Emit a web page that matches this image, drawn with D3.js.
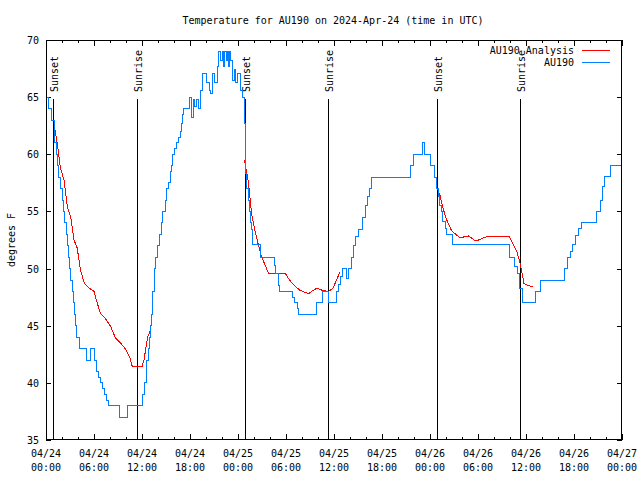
<!DOCTYPE html>
<html><head><meta charset="utf-8">
<script src="https://cdn.jsdelivr.net/npm/d3@7"></script>
<style>
html,body{margin:0;padding:0;background:#fff;}
text{font-family:"DejaVu Sans Mono","Liberation Mono",monospace;font-size:10px;fill:#000;}
</style></head>
<body>
<svg id="c" width="640" height="480"></svg>
<script>
// ---- data (hours since 2024-04-24 00:00 UTC, degrees F) ----
const titleText = "Temperature for AU190 on 2024-Apr-24 (time in UTC)";
const yTicks = [35, 40, 45, 50, 55, 60, 65, 70];
const xTickHours = [0, 6, 12, 18, 24, 30, 36, 42, 48, 54, 60, 66, 72];
const xTickDates = ["04/24","04/24","04/24","04/24","04/25","04/25","04/25","04/25","04/26","04/26","04/26","04/26","04/27"];
const xTickTimes = ["00:00","06:00","12:00","18:00","00:00","06:00","12:00","18:00","00:00","06:00","12:00","18:00","00:00"];

const sunEventHours = [0.92, 11.4, 24.9, 35.3, 48.9, 59.25];
const sunEventLabels = ["Sunset","Sunrise","Sunset","Sunrise","Sunset","Sunrise"];

// observed AU190 (step changes)
const obsHours = [0.0,0.3,0.7,1.0,1.1,1.25,1.45,1.6,1.8,2.0,2.15,2.3,2.5,2.65,2.8,2.95,3.1,3.25,3.4,3.55,3.7,3.85,4.2,5.1,5.5,6.05,6.25,6.6,6.75,7.1,7.3,7.6,7.8,9.2,10.2,
  12.1,12.3,12.5,12.6,12.8,12.9,13.0,13.15,13.25,13.35,13.5,13.6,13.7,13.9,14.2,14.4,14.6,14.9,15.1,15.3,15.5,15.7,15.8,16.0,16.3,16.5,16.75,16.9,17.1,17.2,17.9,18.2,18.4,18.6,18.8,19.0,19.3,19.6,20.1,20.4,20.6,20.8,21.1,21.4,21.6,21.8,22.0,22.2,22.35,22.5,22.65,22.8,22.95,23.1,23.25,23.5,23.7,23.95,24.35,24.6,24.8,24.9,24.95,25.1,25.3,25.45,25.55,25.65,25.85,26.75,
  28.55,28.7,29.0,29.15,30.85,31.0,31.4,31.55,33.75,34.5,35.3,36.25,36.5,36.75,37.0,37.55,37.75,38.2,38.4,38.7,39.1,39.5,39.9,40.2,40.4,40.7,45.5,45.9,47.1,47.3,
  48.1,48.6,48.75,48.85,49.0,49.2,49.4,49.6,49.9,50.1,50.75,57.9,58.5,58.9,59.2,59.6,61.2,61.8,64.75,65.2,65.6,65.85,66.2,66.6,66.9,68.8,69.3,69.6,69.85,70.6,72.0];
const obsTemps = [65,64,63,62,61,60,59,58,57,56,55,54,53,52,51,50,49,48,47,46,45,44,43,42,43,42,41,40.5,40,39.5,39,38.5,38,37,38,
  39,40,41,42,43,44,45,46,47,48,49,50,51,52,53,54,55,56,57,57.5,58.5,59,60,60.5,61,61.5,62,62.7,63.5,64,65,63.2,64.8,64.2,64.8,64,65.6,67.1,66.3,65.6,65.3,67.1,66.3,67.7,69,68.2,69,67.7,69,68.2,69,67.7,69,68.2,66.5,67.4,66.3,67.1,65.6,65,62.7,60.5,58.3,57,56,55,54,53.4,52.1,51,
  50.3,49.6,48.5,48,47.5,47,46.5,46,47,48,47,48,48.6,49.3,50,49.1,50,51,52,52.8,53.4,54.5,55.5,56.3,57,58,59,60,61,60,
  59,58,57.5,57,56.3,55.5,55,54.1,53.5,53,52.1,51,50.2,49.6,48.3,47,48,49,50,51,51.5,52.1,52.9,53.5,54,55,56,57.2,58.1,59,59];

// AU190 Analysis (null = gap)
const anaHours = [1.0,1.4,1.8,2.25,2.67,3.1,3.5,3.9,4.3,4.8,5.4,6.0,6.4,6.8,7.45,8.1,8.7,9.3,10.0,10.5,10.8,12.0,12.25,12.7,13.0,
  18.0,
  24.8,25.3,25.7,26.1,26.5,26.95,27.4,27.8,29.9,30.3,30.9,31.75,32.8,33.4,33.9,34.5,35.3,35.9,36.3,36.75,
  42.0,
  48.8,49.25,49.7,50.1,50.7,51.75,52.8,53.75,54.7,55.5,57.9,58.4,58.9,59.25,59.75,60.3,60.9];
const anaTemps = [62.7,61.0,58.8,57.75,55.4,54.5,52.5,51.8,49.9,48.7,48.3,48.0,47.0,46.1,45.6,44.9,43.9,43.5,42.9,42.15,41.4,41.4,42.0,44.0,44.5,
  null,
  59.5,57.6,54.8,53.4,52.2,51.0,50.3,49.6,49.6,49.15,48.6,48.1,47.8,48.1,48.3,48.1,48.0,48.3,49.0,49.7,
  null,
  57.2,56.4,55.1,54.25,53.3,52.7,52.85,52.4,52.7,52.85,52.85,52.1,51.4,50.5,48.7,48.5,48.4];

const seriesNames = ["AU190 Analysis", "AU190"];
const seriesColors = ["#ff0000", "#0080ff"];

// ---- layout ----
const L = 46, R = 622, T = 40, B = 440;
const svg = d3.select("#c");
const x = d3.scaleLinear().domain([0, 72]).range([L, R]);
const y = d3.scaleLinear().domain([35, 70]).range([B, T]);

// title
svg.append("text").attr("x", 333).attr("y", 24).attr("text-anchor", "middle").text(titleText);
// y label
svg.append("text").attr("transform", "translate(15,240) rotate(-90)").attr("text-anchor", "middle").text("degrees F");

// axes with inward ticks
const minorHours = d3.range(0, 73, 2);
const gB = svg.append("g").attr("transform", `translate(0,${B})`)
  .call(d3.axisTop(x).tickValues(minorHours).tickSize(3).tickFormat(""));
const gB2 = svg.append("g").attr("transform", `translate(0,${B})`)
  .call(d3.axisTop(x).tickValues(xTickHours).tickSize(6).tickFormat(""));
const gT = svg.append("g").attr("transform", `translate(0,${T})`)
  .call(d3.axisBottom(x).tickValues(minorHours).tickSize(3).tickFormat(""));
const gT2 = svg.append("g").attr("transform", `translate(0,${T})`)
  .call(d3.axisBottom(x).tickValues(xTickHours).tickSize(6).tickFormat(""));
const gL = svg.append("g").attr("transform", `translate(${L},0)`)
  .call(d3.axisRight(y).tickValues(yTicks).tickSize(5).tickFormat(""));
const gR = svg.append("g").attr("transform", `translate(${R},0)`)
  .call(d3.axisLeft(y).tickValues(yTicks).tickSize(5).tickFormat(""));
[gB, gB2, gT, gT2, gL, gR].forEach(g => {
  g.select(".domain").remove();
  g.selectAll("line").attr("stroke", "#000").attr("shape-rendering", "crispEdges");
});

// y tick labels
svg.selectAll(".ylab").data(yTicks).enter().append("text")
  .attr("x", L - 7).attr("y", d => y(d) + 4).attr("text-anchor", "end").text(d => d);
// x tick labels
const xl = svg.selectAll(".xlab").data(xTickHours).enter().append("text")
  .attr("text-anchor", "middle");
xl.append("tspan").attr("x", d => x(d)).attr("y", 457).text((d, i) => xTickDates[xTickHours.indexOf(d)]);
xl.append("tspan").attr("x", d => x(d)).attr("y", 471).text((d, i) => xTickTimes[xTickHours.indexOf(d)]);

// sun events
const sg = svg.selectAll(".sun").data(sunEventHours).enter().append("g");
sg.append("line").attr("x1", d => Math.round(x(d)) + 0.5).attr("x2", d => Math.round(x(d)) + 0.5)
  .attr("y1", 99).attr("y2", B).attr("stroke", "#000").attr("stroke-width", 1);
sg.append("text").attr("transform", d => `translate(${Math.round(x(d)) + 5},92) rotate(-90)`)
  .attr("text-anchor", "start").text(d => sunEventLabels[sunEventHours.indexOf(d)]);

// data lines
const obs = obsHours.map((h, i) => ({h, v: obsTemps[i]}));
const ana = anaHours.map((h, i) => ({h, v: anaTemps[i]}));
const lineStep = d3.line().x(d => x(d.h)).y(d => y(d.v)).curve(d3.curveStepAfter);
const lineLin = d3.line().defined(d => d.v !== null).x(d => x(d.h)).y(d => y(d.v));

svg.append("path").datum(ana).attr("d", lineLin).attr("fill", "none")
  .attr("stroke", seriesColors[0]).attr("stroke-width", 1).attr("shape-rendering", "crispEdges");
svg.append("path").datum(obs).attr("d", lineStep).attr("fill", "none")
  .attr("stroke", seriesColors[1]).attr("stroke-width", 1).attr("shape-rendering", "crispEdges");

// border
svg.append("rect").attr("x", L + 0.5).attr("y", T + 0.5).attr("width", R - L - 1).attr("height", B - T - 1)
  .attr("fill", "none").attr("stroke", "#000").attr("shape-rendering", "crispEdges");

// legend
const lg = svg.selectAll(".lg").data(seriesNames).enter().append("g")
  .attr("transform", (d, i) => `translate(0,${50 + i * 12})`);
lg.append("text").attr("x", 574).attr("y", 4).attr("text-anchor", "end").text(d => d);
lg.append("line").attr("x1", 582).attr("x2", 610).attr("y1", 0.5).attr("y2", 0.5)
  .attr("stroke", d => seriesColors[seriesNames.indexOf(d)]).attr("stroke-width", 1)
  .attr("shape-rendering", "crispEdges");
</script>
</body></html>
